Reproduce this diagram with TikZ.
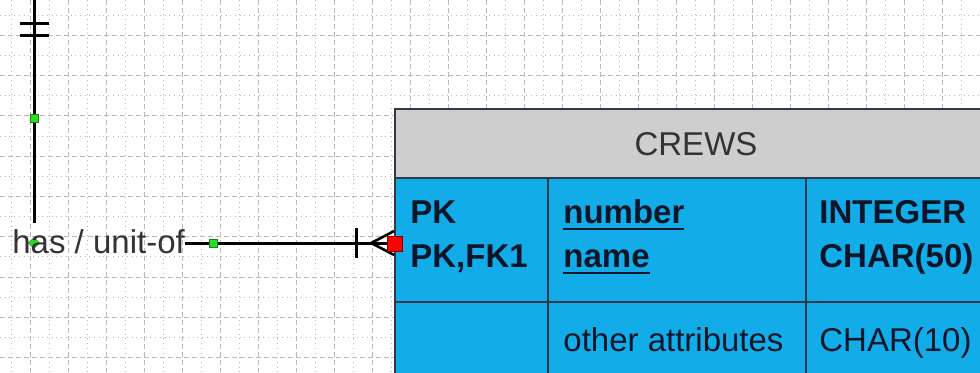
\documentclass[tikz,border=0pt]{standalone}
\usepackage{fontspec}
\setmainfont{Liberation Sans}
\usetikzlibrary{calc}

\definecolor{crewblue}{RGB}{18,172,232}
\definecolor{hdrgray}{RGB}{206,206,206}
\definecolor{gridgray}{RGB}{185,185,185}
\definecolor{inkblue}{RGB}{12,22,40}
\definecolor{handlegreen}{RGB}{40,220,40}

\newcommand{\ulkey}[1]{\setbox0\hbox{#1}\rlap{\rule[-3.6pt]{\wd0}{1.1pt}}\box0}

\begin{document}
\begin{tikzpicture}[x=0.5pt,y=-0.5pt,
    cell/.style={draw=inkblue!85, line width=0.8pt, fill=crewblue, minimum height=62pt, inner sep=0pt},
    celltext/.style={anchor=base west, inner sep=0pt, text=inkblue, font=\fontsize{16.5}{20}\selectfont},
    keytext/.style={celltext, font=\fontsize{16.5}{20}\selectfont\bfseries},
    conn/.style={line width=1.5pt, black},
    gridminor/.style={gridgray, line width=0.35pt, dotted},
    gridmajor/.style={gridgray, line width=0.35pt, dash pattern=on 2.5pt off 1.5pt},
    handlepin/.style={fill=handlegreen, draw=handlegreen!60!black, line width=0.2pt, minimum size=4pt, inner sep=0pt}]

  \useasboundingbox (0,0) rectangle (980,372);
  \clip (0,0) rectangle (980,372);
  \fill [white] (0,0) rectangle (980,372);

  % page grid
  \foreach \x in {11,49,...,980} \draw [gridminor] (\x,0) -- (\x,372);
  \foreach \x in {30,68,...,980} \draw [gridmajor] (\x,0) -- (\x,372);
  \foreach \y in {15,55.3,...,372} \draw [gridminor] (0,\y) -- (980,\y);
  \foreach \y in {35.2,75.5,...,372} \draw [gridmajor] (0,\y) -- (980,\y);

  % CREWS table
  \node [cell, fill=hdrgray, minimum width=300pt, minimum height=34.5pt] (hdr) at (695,143.5) {};
  \node [cell, minimum width=76.5pt] (pkcell) at (471.5,240) {};
  \node [cell, minimum width=129pt] (attcell) at (677,240) {};
  \node [cell, minimum width=94.5pt] (typecell) at (900.5,240) {};
  \node [cell, minimum width=76.5pt, minimum height=59pt] (pkcell2) at (471.5,361) {};
  \node [cell, minimum width=129pt, minimum height=59pt] (attcell2) at (677,361) {};
  \node [cell, minimum width=94.5pt, minimum height=59pt] (typecell2) at (900.5,361) {};

  \node [celltext, anchor=base, text=black!80] (title) at (696,155) {CREWS};
  \node [keytext] (pk1) at (410,223) {PK};
  \node [keytext] (pk2) at (410,267) {PK,FK1};
  \node [keytext] (att1) at (563,223) {\ulkey{number}};
  \node [keytext] (att2) at (563,267) {\ulkey{name}};
  \node [keytext] (typ1) at (819,223) {INTEGER};
  \node [keytext] (typ2) at (819,267) {CHAR(50)};
  \node [celltext] (att3) at (563,351) {other attributes};
  \node [celltext] (typ3) at (819,351) {CHAR(10)};

  % relationship
  \coordinate (topend) at (34,-10);
  \coordinate (rel) at (34,243);
  \coordinate (foot) at (pkcell.west |- rel);
  \node [handlepin, rotate=45] (h3) at (rel) {};
  \node [anchor=base west, inner sep=0pt, outer ysep=3pt, text=black!80,
         font=\fontsize{16.5}{20}\selectfont] (lbl) at (12,253) {has / unit-of};

  \draw [conn] (topend) -- (lbl.north -| rel);
  \draw [conn] (20,23) -- (49,23);
  \draw [conn] (20,35) -- (49,35);
  \draw [conn] (lbl.east |- rel) -- (foot);
  \draw [conn] ($(foot)+(-38,-15)$) -- ($(foot)+(-38,15)$);
  \draw [conn, line width=1.3pt] ($(foot)+(-23,0)$) -- ($(foot)+(0,-12)$);
  \draw [conn, line width=1.3pt] ($(foot)+(-23,0)$) -- ($(foot)+(0,12)$);

  \node [handlepin] (h1) at (34,118) {};
  \node [handlepin] (h2) at (213,243) {};
  \node [fill=red, draw=red!50!black, line width=0.3pt, minimum size=7.5pt, inner sep=0pt] (fkpin) at ($(foot)+(1,1)$) {};
\end{tikzpicture}
\end{document}
